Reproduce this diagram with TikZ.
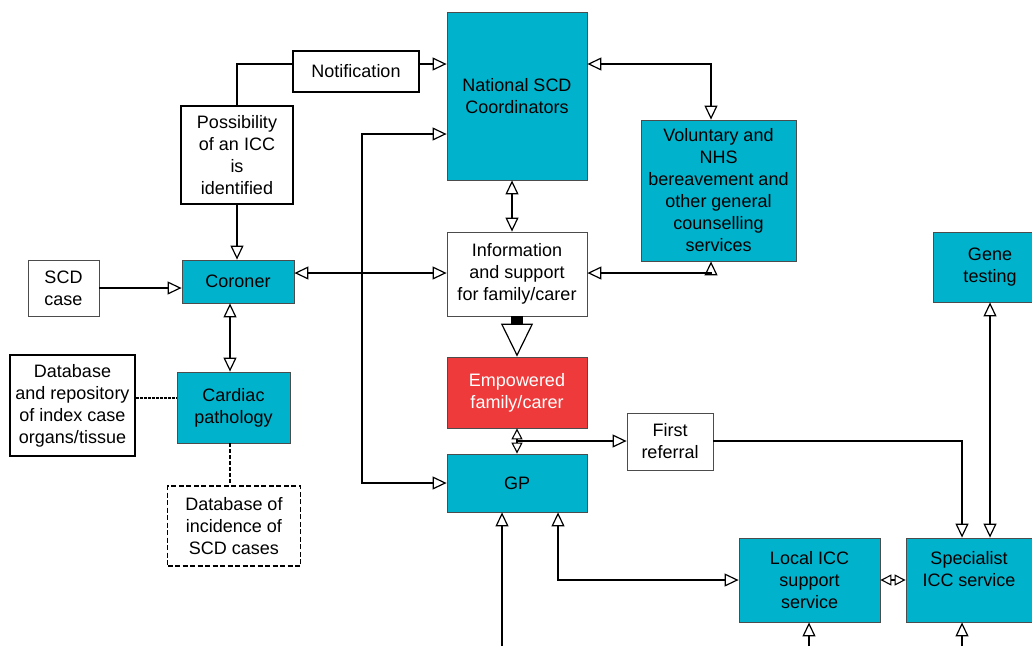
\documentclass[tikz,border=0pt]{standalone}
\usepackage{fontspec}
\setmainfont{Liberation Sans}
\usetikzlibrary{arrows.meta}

\definecolor{icccyan}{RGB}{0,178,204}
\definecolor{iccred}{RGB}{238,58,58}

\begin{document}
\begin{tikzpicture}[x=1pt, y=-1pt,
        iccTip/.tip={Triangle[open, length=14pt, width=13pt, line width=1.2pt]},
        iccSmall/.tip={Triangle[open, length=11pt, width=11pt, line width=1.1pt]},
        box/.style={draw=black!70, line width=0.8pt, align=center, inner sep=2pt,
            font=\fontsize{18}{22}\selectfont},
        cyanbox/.style={box, fill=icccyan},
        redbox/.style={box, fill=iccred, text=white},
        dotbox/.style={box, draw=black, line width=2.2pt},
        dashbox/.style={box, draw=black, line width=1.8pt, dash pattern=on 5pt off 2.5pt},
        link/.style={line width=2pt}]
    \useasboundingbox (0,0) rectangle (1032,646);

    \node[cyanbox, minimum width=140pt, minimum height=168pt] (nat) at (517,96) {National SCD\\Coordinators};
    \node[cyanbox, minimum width=155pt, minimum height=141pt] (vol) at (718.5,190.5)
        {Voluntary and\\NHS\\bereavement and\\other general\\counselling\\services};
    \node[box, minimum width=140pt, minimum height=84pt] (info) at (517,274) {Information\\and support\\for family/carer};
    \node[redbox, minimum width=140pt, minimum height=71pt] (emp) at (517,392.5) {Empowered\\family/carer};
    \node[cyanbox, minimum width=140pt, minimum height=58pt] (gp) at (517,483) {GP};
    \node[box, minimum width=86pt, minimum height=57pt] (ref) at (670,441.5) {First\\referral};
    \node[cyanbox, minimum width=114pt, minimum height=70pt] (gene) at (990,267) {Gene\\testing};
    \node[cyanbox, minimum width=141pt, minimum height=84pt] (loc) at (809.5,580) {Local ICC\\support\\service};
    \node[cyanbox, minimum width=126pt, minimum height=84pt] (spec) at (969,580) {Specialist\\ICC service\\~};
    \node[cyanbox, minimum width=112pt, minimum height=43pt] (cor) at (238,281.5) {Coroner};
    \node[box, minimum width=71pt, minimum height=56pt] (scd) at (63.5,288) {SCD\\case};
    \node[cyanbox, minimum width=113pt, minimum height=71pt] (card) at (233.5,407.5) {Cardiac\\pathology};
    \node[box, draw=black, line width=1.6pt, minimum width=125pt, minimum height=101pt] (repo) at (72.5,405.5)
        {Database\\and repository\\of index case\\organs/tissue};
    \node[dashbox, minimum width=133pt, minimum height=80pt] (inc) at (234,526) {Database of\\incidence of\\SCD cases};
    \node[dotbox, minimum width=112pt, minimum height=98pt] (poss) at (237,155) {Possibility\\of an ICC\\is\\identified};
    \node[dotbox, minimum width=126pt, minimum height=41pt] (notif) at (356,71.5) {Notification};

    \coordinate (row1) at (0,64);
    \coordinate (rowB) at (0,134);
    \coordinate (row3) at (0,273);
    \coordinate (rowR) at (0,398);
    \coordinate (rowF) at (0,441);
    \coordinate (colV) at (711,0);
    \coordinate (colN) at (512,0);
    \coordinate (colB) at (362,0);
    \coordinate (colC) at (230,0);
    \coordinate (colS) at (962,0);
    \coordinate (colG) at (558,0);
    \coordinate (gpin) at (502,646);
    \coordinate (locin) at (809,646);
    \coordinate (specin) at (962,646);

    \draw[link] (poss.north) |- (notif.west |- row1);
    \draw[link, -iccTip] (notif.east |- row1) -- (nat.west |- row1);
    \draw[link, iccTip-iccTip] (nat.east |- row1) -| (vol.north -| colV);
    \draw[link, iccTip-iccTip] (info.east |- row3) -| (vol.south -| colV);
    \draw[link, iccTip-iccTip] (nat.south -| colN) -- (info.north -| colN);
    \draw[link, iccTip-iccTip] (cor.east |- row3) -- (info.west |- row3);
    \draw[link, iccTip-iccTip] (nat.west |- rowB) -| (colB |- gp.west) -- (gp.west);
    \draw[link, -iccTip] (poss.south) -- (poss.south |- cor.north);
    \draw[link, -iccTip] (scd.east) -- (scd.east -| cor.west);
    \draw[link, iccTip-iccTip] (cor.south -| colC) -- (card.north -| colC);
    \draw[line width=1.8pt, dash pattern=on 3pt off 1pt] (repo.east |- rowR) -- (card.west |- rowR);
    \draw[line width=1.8pt, dash pattern=on 4pt off 2pt] (card.south -| colC) -- (inc.north -| colC);

    \draw[line width=12pt, -{Triangle[open, length=33pt, width=32pt, line width=1.2pt]}] (info.south) -- (emp.north);
    \draw[link, iccSmall-iccSmall] (emp.south) -- (gp.north);
    \draw[link, -iccTip] (emp.south |- rowF) -- (ref.west |- rowF);
    \draw[link, -iccTip] (ref.east |- rowF) -| (spec.north -| colS);
    \draw[link, iccTip-iccTip] (gene.south) -- (gene.south |- spec.north);
    \draw[link, iccTip-iccTip] (gp.south -| colG) |- (loc.west);
    \draw[line width=1.6pt, iccSmall-iccSmall] (loc.east) -- (spec.west);
    \draw[link, -iccTip] (gpin) -- (gpin |- gp.south);
    \draw[link, -iccTip] (locin) -- (locin |- loc.south);
    \draw[link, -iccTip] (specin) -- (specin |- spec.south);
\end{tikzpicture}
\end{document}
